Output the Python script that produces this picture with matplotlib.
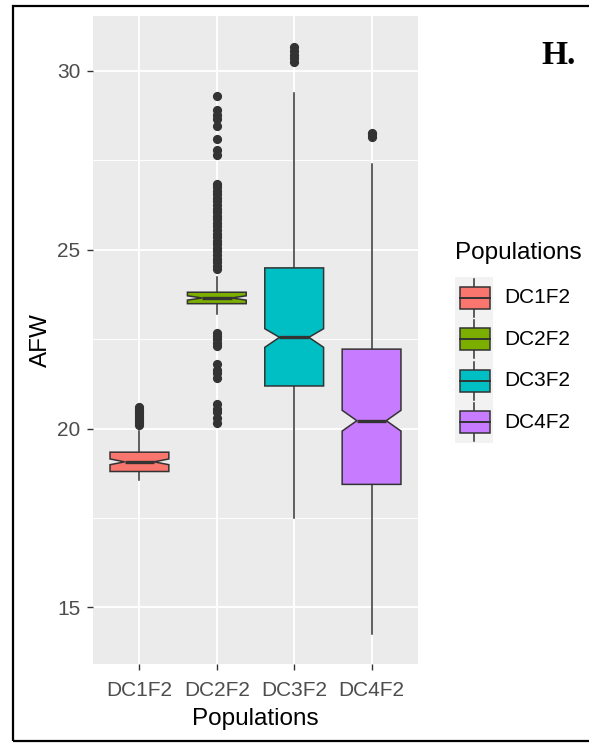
import matplotlib
matplotlib.use("Agg")
import matplotlib.pyplot as plt
from matplotlib.patches import Rectangle
from matplotlib.lines import Line2D

# ---- data ----
categories = ["DC1F2", "DC2F2", "DC3F2", "DC4F2"]
colors = ["#F8766D", "#7CAE00", "#00BFC4", "#C77CFF"]
q1 = [18.80, 23.49, 21.19, 18.44]
median = [19.07, 23.65, 22.55, 20.22]
q3 = [19.34, 23.81, 24.49, 22.22]
notch_lo = [18.99, 23.59, 22.27, 19.93]
notch_hi = [19.15, 23.71, 22.79, 20.51]
whisker_lo = [18.57, 23.20, 17.49, 14.27]
whisker_hi = [19.94, 24.23, 29.39, 27.39]
outliers_dc1 = [20.10, 20.15, 20.20, 20.25, 20.30, 20.35, 20.40, 20.45, 20.50, 20.55, 20.60]
outliers_dc2 = [24.45, 24.55, 24.65, 24.75, 24.85, 24.95, 25.05, 25.15, 25.25, 25.35,
                25.45, 25.55, 25.65, 25.75, 25.85, 25.95, 26.05, 26.15, 26.25, 26.35,
                26.45, 26.55, 26.65, 26.75, 26.84,
                27.65, 27.79, 28.08, 28.46, 28.65, 28.77, 28.90, 29.30,
                22.30, 22.40, 22.50, 22.60, 22.67,
                21.42, 21.55, 21.65, 21.80,
                20.15, 20.30, 20.45, 20.55, 20.68]
outliers_dc3 = [30.25, 30.35, 30.45, 30.55, 30.65]
outliers_dc4 = [28.16, 28.22, 28.27]
outliers = [outliers_dc1, outliers_dc2, outliers_dc3, outliers_dc4]
y_ticks = [15, 20, 25, 30]
y_minor = [17.5, 22.5, 27.5]

W, H = 589, 744
fig = plt.figure(figsize=(W / 100, H / 100), dpi=100)
plt.rcParams['font.family'] = ['Liberation Sans', 'DejaVu Sans']

def fx(px):
    return px / W

def fy(py):
    return 1 - py / H

# panel
ax = fig.add_axes([fx(93), fy(664), (418 - 93) / W, (664 - 16) / H])
ax.set_facecolor("#EBEBEB")
for s in ax.spines.values():
    s.set_visible(False)

stats = []
for i, c in enumerate(categories):
    stats.append(dict(label=c, med=median[i], q1=q1[i], q3=q3[i],
                      whislo=whisker_lo[i], whishi=whisker_hi[i],
                      cilo=notch_lo[i], cihi=notch_hi[i], fliers=outliers[i]))

positions = list(range(1, len(categories) + 1))
bp = ax.bxp(stats, positions=positions, widths=0.76, shownotches=True,
            showcaps=False, patch_artist=True, manage_ticks=False,
            boxprops=dict(edgecolor="#333333", linewidth=1.1),
            medianprops=dict(color="#333333", linewidth=2.4),
            whiskerprops=dict(color="#333333", linewidth=1.1),
            flierprops=dict(marker="o", markerfacecolor="#333333",
                            markeredgecolor="#333333", markersize=5.6,
                            linestyle="none"))
for patch, col in zip(bp["boxes"], colors):
    patch.set_facecolor(col)
for b in bp["boxes"]:
    b.set_zorder(3)
for m in bp["medians"]:
    m.set_zorder(4)

ax.set_xlim(0.4, 4.6)
ax.set_ylim(13.42, 31.53)
ax.set_xticks(positions)
ax.set_xticklabels(categories)
ax.set_yticks(y_ticks)
ax.set_yticks(y_minor, minor=True)
ax.grid(True, which="major", color="white", linewidth=1.3, zorder=0)
ax.grid(True, which="minor", axis="y", color="white", linewidth=0.65, zorder=0)
ax.set_axisbelow(True)
ax.tick_params(axis="both", which="major", length=4, width=1.0, color="#333333",
               labelcolor="#4D4D4D", labelsize=15)
ax.tick_params(axis="x", which="major", pad=8)
ax.tick_params(axis="y", which="major", pad=5)
ax.tick_params(axis="y", which="minor", length=0)
ax.set_xlabel("Populations", fontsize=17.5, color="black", labelpad=6)
ax.set_ylabel("AFW", fontsize=17.5, color="black", labelpad=4)

# legend (drawn manually, ggplot style)
fig.text(fx(455), fy(253), "Populations", fontsize=17.5, ha="left", va="center")
lax = fig.add_axes([fx(455), fy(443), 38 / W, 166 / H])
lax.set_facecolor("#F2F2F2")
for s in lax.spines.values():
    s.set_visible(False)
lax.set_xticks([])
lax.set_yticks([])
lax.set_xlim(0, 38)
lax.set_ylim(166, 0)
cell = 166 / len(categories)
for i, (c, col) in enumerate(zip(categories, colors)):
    cy = cell * (i + 0.5)
    lax.add_line(Line2D([19, 19], [cy - 19, cy + 19], color="#333333", lw=1.1))
    lax.add_patch(Rectangle((5, cy - 11), 30, 22, facecolor=col,
                            edgecolor="#333333", lw=1.1, zorder=3))
    lax.add_line(Line2D([5, 35], [cy, cy], color="#333333", lw=1.4, zorder=4))
    fig.text(fx(504), fy(277 + cy), c, fontsize=15, ha="left", va="center")

# panel tag
fig.text(fx(559), fy(55), "H.", fontsize=24, fontweight="bold",
         family=["Liberation Serif", "DejaVu Serif"], ha="center", va="center")

# frame around the figure
fig.add_artist(Rectangle((fx(13), fy(741)), fx(600) - fx(13), fy(6) - fy(741),
                         transform=fig.transFigure, fill=False,
                         edgecolor="black", linewidth=1.6))

fig.savefig("out.png", dpi=100)
